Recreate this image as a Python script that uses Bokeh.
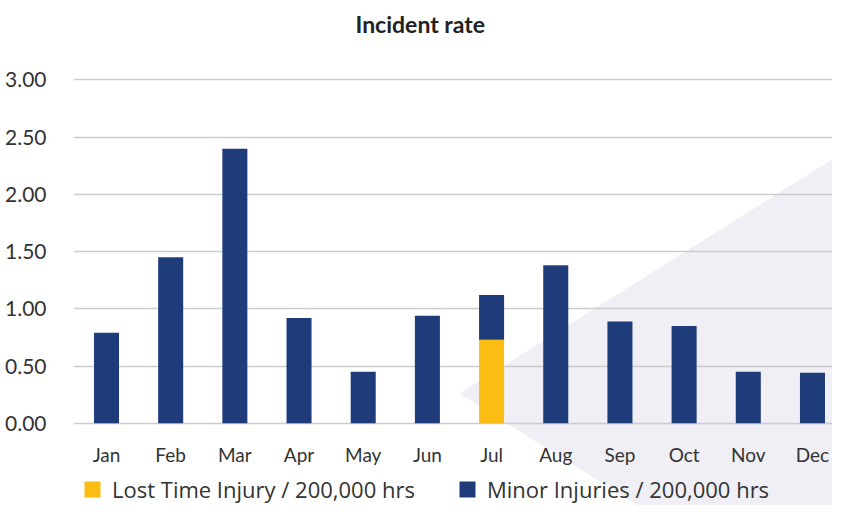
from bokeh.plotting import figure
from bokeh.models import (ColumnDataSource, Range1d, FixedTicker, NumeralTickFormatter,
                          Legend, LegendItem, PolyAnnotation, Title)
from bokeh.core.properties import value
from bokeh.embed import file_html
from bokeh.resources import INLINE

# ---- data ----
months = ["Jan", "Feb", "Mar", "Apr", "May", "Jun", "Jul", "Aug", "Sep", "Oct", "Nov", "Dec"]
lost_time = [0, 0, 0, 0, 0, 0, 0.73, 0, 0, 0, 0, 0]
minor = [0.79, 1.45, 2.40, 0.92, 0.45, 0.94, 0.39, 1.38, 0.89, 0.85, 0.45, 0.44]
y_ticks = [0, 0.5, 1.0, 1.5, 2.0, 2.5, 3.0]
series_names = ["Lost Time Injury / 200,000 hrs", "Minor Injuries / 200,000 hrs"]

NAVY = "#1F3C7A"
YELLOW = "#FBBD13"
FONT = "Lato"
TXT = "#333333"

xs = list(range(len(months)))
source = ColumnDataSource(dict(x=xs, month=months, base=[0] * len(months),
                               lost=lost_time, minor=minor))

p = figure(width=832, height=505, output_backend="svg", toolbar_location=None,
           x_range=Range1d(-0.514, 11.312), y_range=Range1d(-0.7194, 3.118),
           min_border_left=73, min_border_right=0, min_border_top=66, min_border_bottom=0)
p.outline_line_color = None

# decorative background triangle (canvas pixels)
tri = PolyAnnotation(xs=[459, 900, 900], ys=[393, 116, 670],
                     xs_units="canvas", ys_units="canvas",
                     fill_color="#EFEFF5", fill_alpha=1.0, line_color=None, level="image")
p.add_layout(tri)

r = p.vbar_stack(["lost", "minor"], x="x", width=0.39, source=source,
                 color=[YELLOW, NAVY], line_color=None)

# month labels below the zero line
p.text(x="x", y="base", text="month", source=source, y_offset=31,
       text_align="center", text_baseline="middle",
       text_font=value(FONT), text_font_size="19px", text_color=TXT)

# title (a blank spacer title sits between it and the plot area)
p.title.text = "Incident rate"
p.title.align = "left"
p.title.offset = 282
p.title.text_font = FONT
p.title.text_font_style = "bold"
p.title.text_font_size = "23px"
p.title.text_color = "#222222"
spacer = Title(text=" ", text_font_size="16px", standoff=5)
p.add_layout(spacer, "above")

# axes
p.xaxis.visible = False

p.yaxis.ticker = FixedTicker(ticks=y_ticks)
p.yaxis.formatter = NumeralTickFormatter(format="0.00")
p.yaxis.axis_line_color = None
p.yaxis.major_tick_line_color = None
p.yaxis.minor_tick_line_color = None
p.yaxis.major_label_standoff = 21
p.yaxis.major_label_text_font = FONT
p.yaxis.major_label_text_font_size = "21px"
p.yaxis.major_label_text_color = TXT

p.xgrid.grid_line_color = None
p.ygrid.grid_line_color = "#CCCCCC"
p.ygrid.grid_line_width = 1.5

legend = Legend(items=[LegendItem(label=series_names[0], renderers=[r[0]]),
                       LegendItem(label=series_names[1], renderers=[r[1]])],
                orientation="horizontal", location=(9, 1),
                glyph_width=20, glyph_height=20, label_standoff=10, spacing=42,
                padding=0, margin=0, border_line_color=None, background_fill_alpha=0,
                label_text_font="Open Sans", label_text_font_size="22px", label_text_color=TXT)
p.add_layout(legend, "center")

open("out.html", "w").write(file_html(p, INLINE))
